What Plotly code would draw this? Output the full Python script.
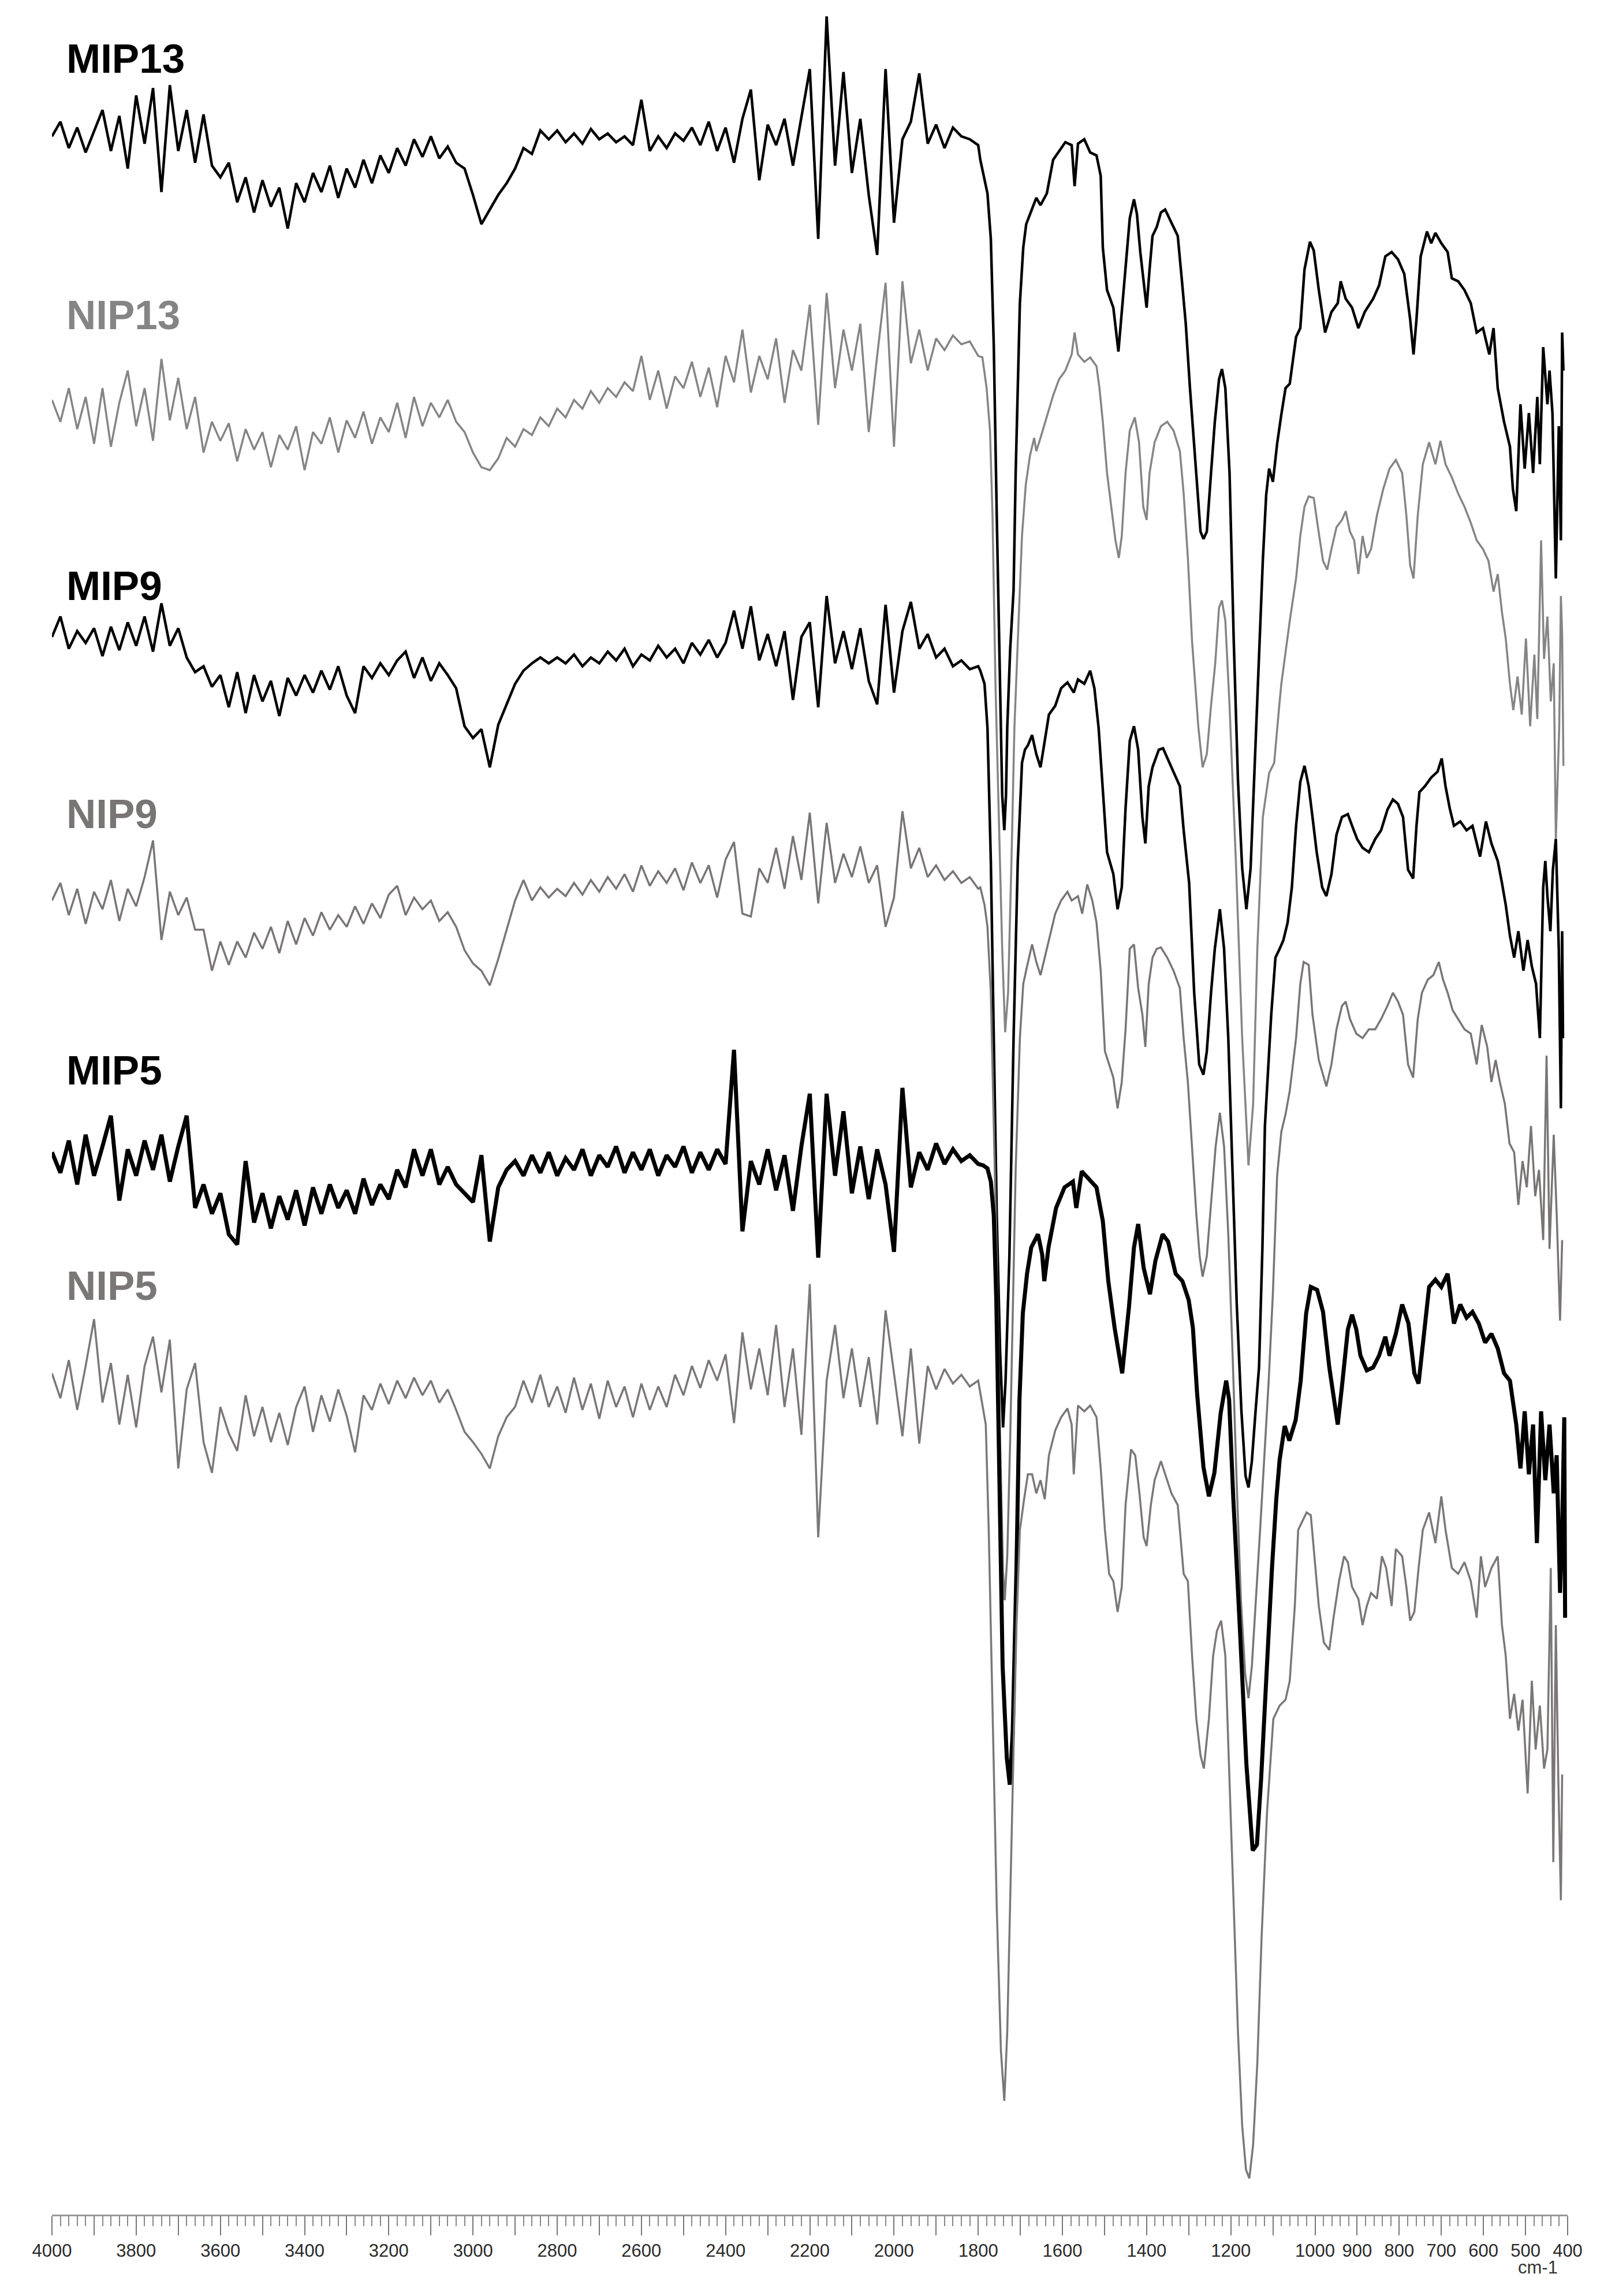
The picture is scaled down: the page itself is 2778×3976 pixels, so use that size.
import plotly.graph_objects as go

wavenumber_left = list(range(4000, 1799, -20))

mip13_left = [90, 80, 98, 84, 101, 86, 72, 100, 76, 112,
              62, 95, 57, 128, 55, 100, 72, 108, 75, 110,
              118, 108, 135, 118, 142, 120, 138, 125, 153, 122,
              135, 115, 128, 110, 132, 112, 125, 106, 122, 103,
              115, 98, 110, 92, 104, 90, 105, 97, 108, 112,
              130, 150, 140, 130, 122, 112, 98, 102, 86, 92,
              86, 94, 88, 95, 85, 92, 88, 94, 90, 96,
              65, 100, 90, 98, 88, 93, 84, 96, 80, 100,
              84, 108, 78, 58, 120, 82, 96, 78, 110, 76,
              44, 160, 8, 110, 46, 115, 78, 130, 171, 44,
              149, 92, 80, 47, 95, 82, 98, 84, 90, 92,
              96]
mip13_right_wn = [1795, 1785, 1778, 1770, 1763, 1756, 1748, 1743, 1738, 1734,
                  1731, 1724, 1716, 1711, 1701, 1693, 1686, 1672, 1662, 1652,
                  1637, 1622, 1608, 1593, 1578, 1571, 1563, 1548, 1534, 1519,
                  1509, 1504, 1494, 1479, 1467, 1459, 1450, 1440, 1430, 1423,
                  1415, 1400, 1393, 1386, 1376, 1366, 1356, 1341, 1326, 1316,
                  1307, 1297, 1282, 1272, 1265, 1257, 1247, 1238, 1228, 1221,
                  1213, 1203, 1193, 1183, 1173, 1163, 1153, 1145, 1139, 1132,
                  1124, 1116, 1109, 1100, 1090, 1080, 1070, 1060, 1045, 1035,
                  1025, 1012, 1003, 991, 976, 961, 946, 939, 927, 912,
                  897, 882, 862, 848, 833, 818, 803, 788, 774, 766,
                  759, 749, 734, 724, 714, 700, 685, 675, 660, 645,
                  630, 616, 601, 586, 576, 566, 551, 537, 530, 522,
                  512, 502, 492, 482, 472, 466, 458, 448, 443, 436,
                  428, 421, 416, 413, 410]
mip13_right = [106, 120, 129, 160, 233, 348, 480, 540, 564, 540,
               494, 440, 400, 320, 204, 166, 150, 140, 132, 137,
               129, 106, 100, 94, 96, 124, 95, 92, 101, 103,
               117, 166, 195, 207, 237, 210, 184, 146, 133, 143,
               169, 207, 181, 158, 152, 142, 140, 149, 158, 189,
               218, 262, 320, 360, 365, 360, 320, 285, 256, 249,
               262, 320, 435, 530, 590, 618, 590, 530, 494, 434,
               380, 335, 317, 326, 300, 280, 262, 259, 227, 221,
               181, 162, 168, 195, 224, 210, 204, 189, 201, 207,
               221, 210, 201, 192, 172, 169, 174, 184, 215, 239,
               215, 172, 155, 163, 156, 163, 169, 187, 189, 195,
               204, 224, 221, 239, 221, 262, 285, 302, 331, 346,
               273, 317, 279, 320, 268, 314, 234, 273, 250, 279,
               392, 288, 366, 224, 250]

nip13_left = [270, 285, 262, 290, 268, 300, 262, 302, 272, 250,
              288, 262, 298, 242, 284, 255, 290, 268, 306, 285,
              298, 286, 312, 290, 304, 292, 316, 294, 304, 288,
              318, 292, 300, 282, 306, 284, 296, 278, 300, 282,
              292, 272, 296, 268, 288, 272, 282, 270, 285, 292,
              306, 316, 318, 310, 296, 302, 290, 294, 282, 288,
              276, 282, 270, 276, 264, 272, 262, 268, 258, 264,
              240, 270, 250, 276, 254, 262, 244, 268, 248, 275,
              240, 258, 222, 265, 240, 256, 228, 272, 236, 250,
              205, 287, 197, 262, 222, 250, 218, 292, 240, 190,
              302, 189, 245, 222, 250, 228, 236, 226, 232, 230,
              240]
nip13_right_wn = [1790, 1780, 1772, 1766, 1759, 1751, 1743, 1736, 1729, 1721,
                  1714, 1706, 1696, 1687, 1677, 1667, 1662, 1652, 1637, 1622,
                  1608, 1593, 1578, 1571, 1563, 1548, 1534, 1519, 1512, 1504,
                  1494, 1484, 1474, 1466, 1459, 1450, 1440, 1428, 1418, 1408,
                  1400, 1393, 1381, 1366, 1351, 1336, 1321, 1312, 1302, 1292,
                  1277, 1267, 1257, 1247, 1237, 1228, 1221, 1213, 1203, 1188,
                  1173, 1158, 1147, 1137, 1124, 1109, 1097, 1085, 1080, 1060,
                  1045, 1035, 1025, 1015, 1003, 993, 981, 971, 961, 949,
                  936, 927, 917, 907, 897, 887, 877, 867, 853, 838,
                  823, 808, 793, 783, 774, 766, 756, 744, 729, 714,
                  702, 690, 675, 660, 645, 630, 616, 601, 588, 576,
                  566, 556, 547, 537, 529, 519, 509, 499, 489, 479,
                  472, 463, 456, 448, 440, 433, 428, 420, 416, 413,
                  410]
nip13_right = [241, 262, 291, 349, 464, 555, 645, 702, 675, 585,
               494, 435, 363, 328, 308, 296, 305, 296, 282, 267,
               256, 250, 239, 224, 239, 244, 241, 247, 262, 285,
               320, 343, 366, 378, 363, 320, 291, 282, 299, 343,
               352, 320, 299, 288, 285, 291, 305, 334, 378, 435,
               494, 521, 512, 479, 450, 412, 407, 421, 479, 585,
               706, 793, 751, 645, 555, 525, 518, 479, 464, 421,
               392, 363, 343, 336, 337, 357, 380, 386, 372, 357,
               352, 346, 360, 366, 389, 363, 378, 372, 349, 331,
               317, 311, 320, 349, 383, 392, 349, 314, 299, 314,
               298, 314, 323, 334, 343, 354, 366, 372, 380, 401,
               389, 415, 433, 464, 482, 459, 485, 433, 493, 444,
               488, 366, 447, 418, 476, 450, 570, 494, 404, 430,
               520]

mip9_left = [432, 418, 440, 428, 436, 426, 445, 425, 441, 422,
             438, 418, 442, 409, 438, 426, 446, 456, 452, 466,
             458, 480, 456, 484, 458, 476, 462, 486, 460, 472,
             458, 470, 455, 468, 452, 472, 484, 452, 460, 450,
             458, 448, 442, 460, 446, 462, 450, 458, 467, 493,
             501, 495, 521, 492, 478, 464, 455, 450, 446, 450,
             446, 450, 444, 452, 446, 450, 442, 448, 440, 452,
             444, 448, 438, 446, 440, 450, 436, 444, 434, 446,
             436, 414, 440, 411, 448, 430, 452, 428, 475, 432,
             422, 480, 404, 450, 428, 454, 426, 462, 478, 410,
             470, 428, 408, 440, 430, 446, 440, 452, 448, 454,
             452]
mip9_right_wn = [1795, 1785, 1778, 1770, 1763, 1756, 1748, 1741, 1735, 1730,
                 1726, 1716, 1706, 1696, 1689, 1682, 1672, 1662, 1652, 1642,
                 1632, 1617, 1603, 1588, 1573, 1563, 1548, 1534, 1524, 1514,
                 1504, 1494, 1479, 1469, 1459, 1450, 1440, 1430, 1420, 1410,
                 1403, 1395, 1386, 1371, 1361, 1346, 1331, 1321, 1312, 1299,
                 1287, 1275, 1265, 1257, 1247, 1238, 1226, 1216, 1206, 1196,
                 1186, 1175, 1165, 1158, 1150, 1141, 1133, 1125, 1119, 1104,
                 1094, 1084, 1075, 1065, 1055, 1045, 1035, 1025, 1015, 1006,
                 996, 983, 973, 961, 949, 936, 922, 912, 900, 887,
                 872, 857, 843, 828, 815, 803, 791, 779, 767, 759,
                 752, 739, 724, 709, 699, 690, 680, 670, 655, 640,
                 626, 608, 594, 581, 566, 556, 547, 537, 527, 517,
                 505, 495, 485, 475, 466, 458, 453, 448, 441, 435,
                 428, 421, 416, 413, 411]
mip9_right = [455, 464, 494, 585, 706, 826, 920, 972, 940, 890,
              856, 706, 585, 518, 509, 506, 499, 512, 521, 503,
              485, 479, 467, 463, 470, 461, 464, 455, 467, 494,
              534, 579, 594, 618, 603, 549, 503, 493, 509, 555,
              573, 534, 521, 509, 508, 518, 528, 534, 564, 600,
              675, 724, 731, 715, 675, 645, 618, 645, 706, 796,
              887, 960, 1005, 1013, 995, 960, 931, 850, 766, 690,
              651, 645, 639, 627, 603, 561, 531, 520, 534, 555,
              579, 603, 609, 594, 567, 555, 553, 561, 570, 576,
              579, 570, 564, 550, 543, 546, 555, 591, 597, 561,
              538, 534, 528, 524, 515, 534, 549, 561, 558, 564,
              561, 582, 558, 573, 585, 600, 615, 636, 651, 633,
              660, 639, 657, 669, 706, 603, 585, 609, 633, 591,
              570, 645, 754, 633, 706]

nip9_left = [612, 600, 622, 604, 628, 606, 618, 598, 626, 604,
             616, 596, 571, 639, 606, 622, 610, 632, 632, 660,
             640, 656, 640, 651, 634, 645, 630, 648, 626, 642,
             624, 636, 620, 632, 622, 630, 616, 628, 614, 624,
             608, 602, 622, 610, 618, 612, 626, 620, 630, 646,
             655, 660, 670, 652, 632, 612, 598, 612, 603, 610,
             604, 609, 600, 608, 598, 606, 596, 604, 594, 606,
             588, 602, 592, 600, 590, 605, 586, 600, 588, 610,
             584, 572, 621, 623, 590, 600, 576, 604, 568, 598,
             552, 614, 559, 600, 580, 596, 575, 600, 588, 630,
             610, 551, 590, 576, 596, 588, 598, 592, 600, 596,
             604]
nip9_right_wn = [1795, 1785, 1778, 1770, 1763, 1756, 1748, 1741, 1737, 1731,
                 1724, 1717, 1711, 1701, 1693, 1684, 1672, 1662, 1652, 1642,
                 1632, 1617, 1603, 1588, 1578, 1563, 1553, 1541, 1529, 1519,
                 1509, 1499, 1489, 1479, 1469, 1459, 1450, 1440, 1430, 1420,
                 1410, 1403, 1395, 1386, 1376, 1366, 1351, 1336, 1321, 1312,
                 1302, 1292, 1282, 1274, 1267, 1257, 1247, 1236, 1226, 1216,
                 1206, 1196, 1186, 1176, 1166, 1158, 1150, 1140, 1130, 1120,
                 1110, 1100, 1090, 1080, 1070, 1060, 1045, 1035, 1027, 1015,
                 1006, 991, 973, 961, 949, 936, 927, 917, 902, 887,
                 872, 857, 843, 828, 815, 803, 791, 779, 767, 756,
                 746, 732, 719, 706, 696, 685, 673, 660, 645, 630,
                 616, 604, 591, 581, 571, 561, 549, 538, 527, 517,
                 507, 497, 487, 477, 468, 458, 450, 443, 433, 426,
                 418, 413]
nip9_right = [603, 615, 630, 675, 766, 856, 980, 1070, 1090, 1060,
              980, 880, 796, 706, 669, 657, 642, 654, 663, 651,
              639, 621, 612, 606, 612, 609, 621, 601, 612, 627,
              660, 715, 724, 733, 754, 736, 700, 645, 642, 672,
              690, 712, 669, 651, 645, 644, 651, 660, 672, 706,
              736, 781, 826, 855, 869, 855, 820, 780, 757, 780,
              840, 920, 1010, 1090, 1140, 1157, 1135, 1090, 1040, 990,
              940, 880, 800, 770, 758, 742, 706, 669, 654, 656,
              690, 721, 739, 724, 700, 684, 681, 693, 703, 706,
              700, 700, 693, 684, 675, 681, 690, 724, 733, 693,
              675, 666, 663, 654, 666, 675, 687, 693, 700, 703,
              724, 697, 712, 736, 721, 736, 751, 778, 784, 820,
              790, 808, 766, 814, 796, 844, 718, 850, 772, 826,
              899, 844]

mip5_left = [784, 798, 776, 806, 772, 800, 780, 759, 817, 782,
             800, 776, 796, 772, 804, 780, 759, 822, 806, 826,
             812, 840, 847, 790, 832, 812, 836, 814, 830, 810,
             834, 808, 826, 806, 822, 810, 826, 802, 820, 806,
             816, 796, 808, 782, 800, 782, 806, 794, 806, 812,
             818, 786, 845, 808, 796, 790, 800, 786, 798, 784,
             800, 788, 796, 782, 800, 786, 794, 780, 798, 784,
             796, 782, 800, 786, 794, 780, 798, 784, 796, 782,
             792, 714, 838, 790, 806, 782, 810, 786, 824, 780,
             744, 856, 744, 800, 756, 812, 780, 816, 782, 806,
             852, 740, 808, 784, 796, 778, 792, 782, 790, 786,
             792]
mip5_right_wn = [1788, 1778, 1770, 1763, 1757, 1750, 1742, 1732, 1725, 1718,
                 1714, 1709, 1702, 1694, 1684, 1674, 1658, 1648, 1643, 1633,
                 1615, 1595, 1575, 1567, 1554, 1539, 1519, 1504, 1491, 1476,
                 1458, 1442, 1430, 1420, 1407, 1392, 1379, 1362, 1349, 1331,
                 1315, 1300, 1290, 1280, 1265, 1252, 1239, 1224, 1211, 1204,
                 1194, 1178, 1163, 1148, 1138, 1128, 1115, 1102, 1092, 1084,
                 1072, 1061, 1046, 1034, 1021, 1010, 995, 981, 966, 953,
                 946, 936, 922, 912, 902, 892, 877, 862, 848, 833,
                 823, 808, 793, 778, 764, 754, 744, 729, 714, 700,
                 685, 670, 655, 640, 626, 611, 596, 581, 566, 551,
                 537, 522, 512, 502, 492, 482, 473, 463, 453, 443,
                 433, 426, 418, 413, 408, 406]
mip5_right = [793, 795, 804, 827, 885, 1021, 1135, 1198, 1216, 1180,
              1135, 1067, 953, 894, 867, 849, 840, 854, 872, 849,
              822, 808, 804, 822, 797, 802, 808, 831, 872, 904,
              935, 890, 849, 833, 863, 881, 858, 840, 845, 867,
              872, 885, 904, 949, 999, 1019, 1003, 962, 940, 953,
              1021, 1112, 1202, 1261, 1257, 1212, 1135, 1067, 1021, 994,
              971, 981, 967, 940, 894, 876, 878, 893, 931, 957,
              970, 944, 905, 895, 905, 923, 933, 931, 923, 910,
              923, 908, 888, 901, 935, 942, 914, 876, 871, 876,
              867, 901, 888, 897, 893, 901, 914, 908, 918, 935,
              940, 970, 1000, 961, 1004, 970, 1051, 961, 1008, 970,
              1017, 991, 1085, 1042, 965, 1102]

nip5_left = [935, 952, 926, 960, 930, 898, 955, 928, 970, 936,
             972, 930, 910, 948, 912, 1000, 946, 928, 982, 1003,
             958, 976, 988, 950, 978, 958, 982, 962, 984, 958,
             944, 975, 950, 968, 946, 964, 989, 950, 960, 942,
             956, 940, 952, 938, 950, 940, 955, 946, 960, 975,
             982, 990, 1000, 978, 965, 958, 940, 955, 936, 958,
             944, 962, 938, 960, 942, 966, 940, 958, 944, 965,
             942, 960, 944, 958, 936, 950, 930, 945, 926, 940,
             922, 969, 907, 946, 918, 950, 902, 958, 918, 977,
             874, 1047, 940, 902, 952, 918, 958, 924, 970, 892,
             935, 978, 918, 983, 930, 946, 932, 942, 936, 944,
             940]
nip5_right_wn = [1790, 1782, 1775, 1766, 1756, 1746, 1738, 1731, 1723, 1716,
                 1709, 1701, 1691, 1682, 1672, 1662, 1652, 1642, 1632, 1617,
                 1603, 1588, 1578, 1573, 1563, 1548, 1534, 1519, 1509, 1499,
                 1489, 1479, 1469, 1459, 1450, 1437, 1427, 1417, 1407, 1400,
                 1390, 1381, 1366, 1356, 1341, 1326, 1312, 1302, 1292, 1282,
                 1272, 1264, 1252, 1242, 1233, 1223, 1213, 1203, 1193, 1183,
                 1173, 1164, 1156, 1147, 1137, 1127, 1114, 1099, 1084, 1070,
                 1060, 1048, 1040, 1030, 1020, 1010, 1001, 991, 979, 966,
                 956, 943, 931, 922, 912, 897, 887, 877, 867, 853,
                 841, 831, 818, 808, 793, 783, 774, 764, 754, 744,
                 729, 714, 700, 690, 675, 660, 645, 630, 616, 606,
                 596, 581, 566, 556, 547, 537, 527, 517, 507, 495,
                 485, 476, 466, 456, 448, 440, 434, 428, 422, 416,
                 413]
nip5_right = [957, 970, 1042, 1171, 1299, 1398, 1432, 1385, 1278, 1192,
              1107, 1042, 1021, 1004, 1004, 1017, 1008, 1021, 991, 974,
              965, 959, 970, 1004, 957, 961, 957, 965, 1000, 1042,
              1072, 1077, 1098, 1081, 1025, 987, 991, 1017, 1047, 1053,
              1025, 1008, 995, 1004, 1017, 1025, 1072, 1077, 1128, 1171,
              1196, 1205, 1171, 1128, 1111, 1104, 1128, 1214, 1299, 1385,
              1449, 1479, 1485, 1462, 1406, 1321, 1235, 1171, 1162, 1158,
              1145, 1094, 1042, 1036, 1030, 1032, 1060, 1094, 1119, 1124,
              1102, 1077, 1060, 1064, 1081, 1089, 1107, 1094, 1085, 1089,
              1060, 1068, 1094, 1055, 1060, 1081, 1104, 1098, 1068, 1042,
              1030, 1051, 1019, 1042, 1068, 1072, 1064, 1077, 1102, 1060,
              1081, 1068, 1060, 1107, 1128, 1171, 1154, 1179, 1158, 1222,
              1145, 1192, 1162, 1205, 1192, 1068, 1269, 1107, 1214, 1295,
              1209]

labels = ['MIP13', 'NIP13', 'MIP9', 'NIP9', 'MIP5', 'NIP5']
label_y = [37, 212, 397, 553, 728, 875]
colors = ['#000000', '#858585', '#000000', '#7a7575', '#000000', '#7c7777']
widths = [4.5, 3.5, 4.5, 3.5, 7, 3.5]

tick_vals = list(range(4000, 399, -100))
tick_text = ['4000', '', '3800', '', '3600', '', '3400', '', '3200', '', '3000', '',
             '2800', '', '2600', '', '2400', '', '2200', '', '2000', '', '1800', '',
             '1600', '', '1400', '', '1200', '', '1000', '900', '800', '700', '600',
             '500', '400']

spectra = [
    (mip13_left, mip13_right_wn, mip13_right),
    (nip13_left, nip13_right_wn, nip13_right),
    (mip9_left, mip9_right_wn, mip9_right),
    (nip9_left, nip9_right_wn, nip9_right),
    (mip5_left, mip5_right_wn, mip5_right),
    (nip5_left, nip5_right_wn, nip5_right),
]

fig = go.Figure()
for (left, rwn, right), name, col, w in zip(spectra, labels, colors, widths):
    assert len(left) == len(wavenumber_left), name
    assert len(rwn) == len(right), name
    fig.add_trace(go.Scatter(
        x=wavenumber_left + rwn, y=left + right,
        mode='lines', name=name,
        line=dict(color=col, width=w),
        hoverinfo='skip'))

label_font = 'Liberation Sans, Arial, sans-serif'
for name, ly, col in zip(labels, label_y, colors):
    fig.add_annotation(x=3968, y=ly, xref='x', yref='y', text='<b>' + name + '</b>',
                       showarrow=False, xanchor='left', yanchor='middle',
                       font=dict(family=label_font, size=71, color=col))

fig.add_annotation(x=0.9943, y=-0.0238, xref='paper', yref='paper', text='cm-1',
                   showarrow=False, xanchor='right', yanchor='middle',
                   font=dict(family=label_font, size=31, color='#333'))

fig.update_layout(
    width=2778, height=3976,
    margin=dict(l=82, r=71, t=0, b=149),
    paper_bgcolor='white', plot_bgcolor='white',
    showlegend=False,
    xaxis=dict(range=[4000, 400], tickmode='array', tickvals=tick_vals, ticktext=tick_text,
               ticks='outside', ticklen=33, tickwidth=2, tickcolor='#777',
               showline=True, linecolor='#999', linewidth=3,
               showgrid=False, zeroline=False, tickangle=0,
               tickfont=dict(family=label_font, size=31, color='#2a2a2a'),
               minor=dict(tickmode='linear', tick0=400, dtick=20, ticks='outside',
                          ticklen=17, tickwidth=2, tickcolor='#888', showgrid=False)),
    yaxis=dict(range=[1509.7, 0], visible=False, fixedrange=True),
)

fig.write_html("out.html")
